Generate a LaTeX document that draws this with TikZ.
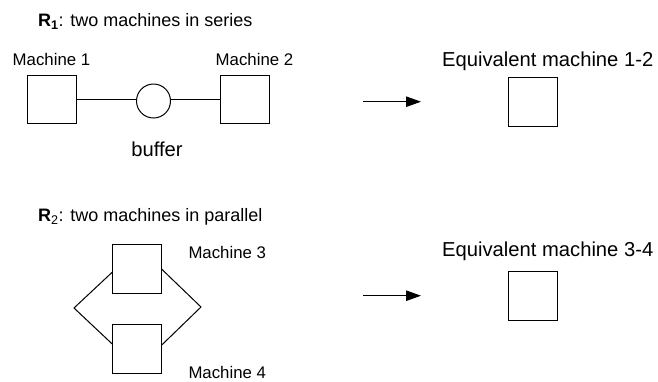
\documentclass[tikz,border=0pt]{standalone}
\usepackage{fontspec}
\setmainfont{Liberation Sans}
\usetikzlibrary{arrows.meta,calc}
\begin{document}
\begin{tikzpicture}[x=1pt,y=-1pt,
  mbox/.style={draw,line width=1pt,minimum size=48.5pt,inner sep=0pt},
  bufc/.style={draw,circle,line width=1pt,minimum size=34pt,inner sep=0pt},
  link/.style={line width=1pt},
  conv/.style={line width=1pt,-{Triangle[length=15pt,width=10.5pt]}},
  small/.style={font=\fontsize{16.8}{19}\selectfont,inner sep=0pt},
  title/.style={font=\fontsize{18}{22}\selectfont,inner sep=0pt},
  big/.style={font=\fontsize{20.2}{24}\selectfont,inner sep=0pt}]
\useasboundingbox (0,0) rectangle (658,381);
% R1
\node[title,anchor=base west] (t1) at (38,26.5) {\textbf{R\textsubscript{1}}: two machines in series};
\node[mbox] (m1) at (52,99.5) {};
\node[bufc] (buf) at (153.5,101) {};
\node[mbox] (m2) at (245,99.5) {};
\node[small,anchor=base] (l1) at (51.5,65) {Machine 1};
\node[small,anchor=base] (l2) at (254.5,65) {Machine 2};
\node[big,anchor=base] (lb) at (157,156) {buffer};
\draw[link] (m1.east) -- (m1.east -| buf.west);
\draw[link] (m2.west -| buf.east) -- (m2.west);
\coordinate (a1s) at (363,101.7);
\coordinate (a1e) at (421,101.7);
\draw[conv] (a1s) -- (a1e);
\node[mbox] (e1) at (533,102.2) {};
\node[big,anchor=base west] (le1) at (442,66.7) {Equivalent machine 1-2};
% R2
\node[title,anchor=base west] (t2) at (38,221.7) {\textbf{R}\textsubscript{2}: two machines in parallel};
\node[mbox] (m3) at (137,269.2) {};
\node[mbox] (m4) at (137,349) {};
\node[small,anchor=base west] (l3) at (188.3,258.3) {Machine 3};
\node[small,anchor=base west] (l4) at (188.3,378.3) {Machine 4};
\coordinate (lv) at (74,308);
\coordinate (rv) at (201,307);
\draw[link] ($(m3.west)+(0,3)$) -- (lv) -- ($(m4.west)+(0,-5)$);
\draw[link] (m3.east) -- (rv) -- ($(m4.east)+(0,-4)$);
\coordinate (a2s) at (363,295.7);
\coordinate (a2e) at (421,295.7);
\draw[conv] (a2s) -- (a2e);
\node[mbox] (e2) at (533,296) {};
\node[big,anchor=base west] (le2) at (442,256) {Equivalent machine 3-4};
\end{tikzpicture}
\end{document}
